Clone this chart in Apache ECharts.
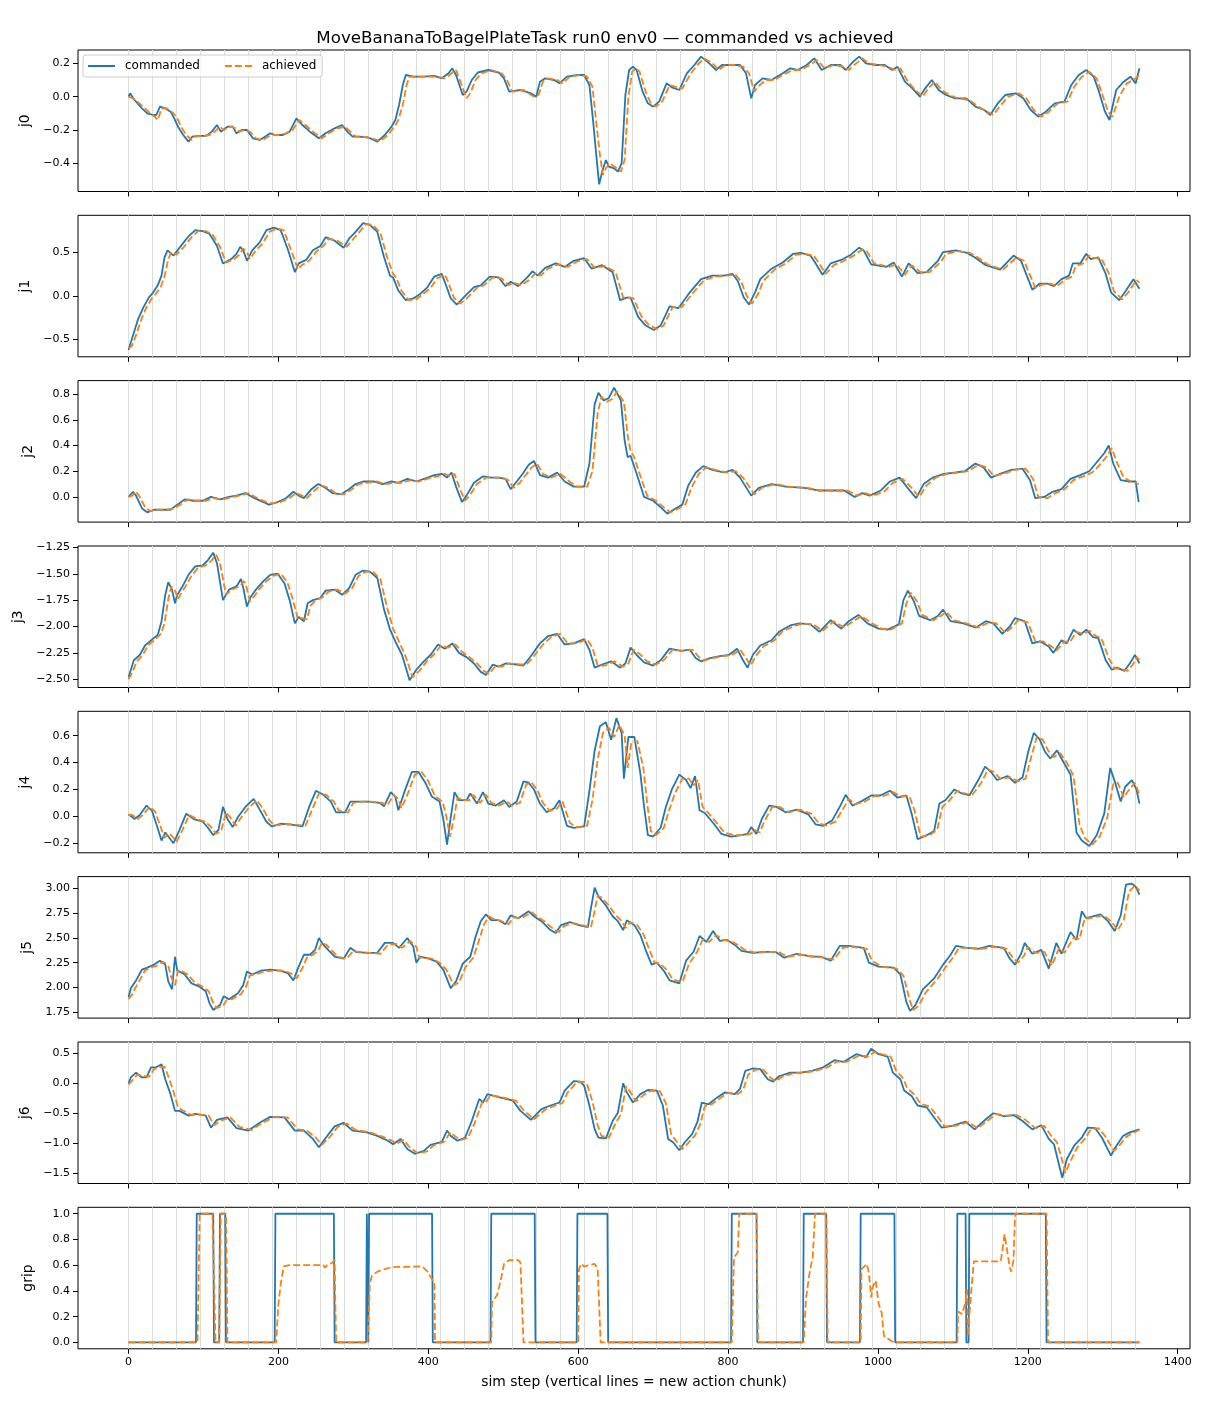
<!DOCTYPE html>
<html>
<head>
<meta charset="utf-8">
<title>MoveBananaToBagelPlateTask run0 env0</title>
<script src="https://cdn.jsdelivr.net/npm/echarts@6/dist/echarts.min.js"></script>
<style>
  html, body { margin: 0; padding: 0; background: #fff; }
  #chart { width: 1210px; height: 1408px; }
</style>
</head>
<body>
<div id="chart"></div>
<script>
// values: [sim step, value]
var chunkStarts = [0,32,64,96,128,160,192,224,256,288,320,352,384,416,448,480,512,544,576,608,640,672,704,736,768,800,832,864,896,928,960,992,1024,1056,1088,1120,1152,1184,1216,1248,1280,1312,1344];
var xTicks = [0,200,400,600,800,1000,1200,1400];

var j0Cmd = [[0,0.0],[2,0.02],[8,-0.02],[18,-0.07],[25,-0.10],[33,-0.11],[37,-0.11],[42,-0.06],[49,-0.07],[56,-0.09],[61,-0.13],[66,-0.18],[73,-0.23],[80,-0.27],[85,-0.24],[94,-0.235],[104,-0.235],[111,-0.21],[118,-0.17],[123,-0.21],[132,-0.18],[139,-0.18],[144,-0.22],[151,-0.20],[158,-0.20],[166,-0.25],[175,-0.26],[182,-0.24],[189,-0.22],[196,-0.23],[206,-0.23],[215,-0.21],[224,-0.13],[232,-0.17],[242,-0.21],[254,-0.25],[263,-0.22],[275,-0.19],[285,-0.17],[292,-0.21],[299,-0.24],[308,-0.24],[320,-0.245],[332,-0.27],[342,-0.23],[351,-0.18],[356,-0.14],[361,-0.05],[366,0.07],[370,0.13],[380,0.12],[394,0.12],[408,0.125],[418,0.11],[427,0.14],[432,0.17],[437,0.13],[446,0.01],[451,0.03],[458,0.10],[466,0.145],[480,0.16],[494,0.145],[501,0.11],[508,0.03],[523,0.04],[537,0.02],[544,0.0],[549,0.09],[556,0.11],[568,0.10],[575,0.08],[585,0.12],[599,0.13],[608,0.13],[615,0.07],[620,-0.15],[625,-0.39],[628,-0.526],[632,-0.45],[637,-0.38],[641,-0.42],[648,-0.43],[653,-0.45],[658,-0.40],[663,0.01],[668,0.16],[673,0.18],[678,0.16],[686,0.03],[693,-0.04],[700,-0.06],[708,-0.03],[718,0.08],[725,0.056],[735,0.04],[745,0.14],[755,0.19],[764,0.24],[775,0.20],[784,0.16],[792,0.19],[804,0.19],[816,0.19],[824,0.14],[831,-0.01],[836,0.07],[846,0.11],[858,0.10],[873,0.14],[883,0.17],[893,0.16],[905,0.19],[915,0.23],[925,0.16],[937,0.19],[950,0.19],[957,0.16],[967,0.21],[975,0.24],[984,0.20],[997,0.19],[1009,0.19],[1019,0.16],[1026,0.18],[1036,0.09],[1046,0.05],[1056,0.0],[1063,0.05],[1072,0.10],[1081,0.04],[1091,0.01],[1103,-0.01],[1118,-0.01],[1130,-0.06],[1142,-0.08],[1150,-0.11],[1160,-0.04],[1170,0.01],[1184,0.02],[1194,-0.01],[1204,-0.08],[1214,-0.12],[1224,-0.09],[1236,-0.04],[1249,-0.03],[1258,0.07],[1268,0.13],[1278,0.16],[1288,0.12],[1295,0.03],[1303,-0.09],[1309,-0.14],[1318,0.04],[1328,0.09],[1337,0.12],[1344,0.08],[1349,0.17]];
var j0Ach = [[0,0.0],[6,-0.01],[12,-0.03],[22,-0.07],[29,-0.10],[35,-0.12],[39,-0.14],[44,-0.07],[51,-0.07],[60,-0.10],[65,-0.13],[70,-0.18],[77,-0.23],[84,-0.26],[89,-0.24],[98,-0.235],[108,-0.23],[115,-0.21],[122,-0.18],[127,-0.20],[136,-0.18],[143,-0.19],[148,-0.21],[155,-0.20],[162,-0.21],[170,-0.25],[179,-0.26],[186,-0.24],[193,-0.23],[200,-0.23],[210,-0.22],[219,-0.20],[228,-0.14],[236,-0.17],[246,-0.21],[258,-0.25],[267,-0.22],[279,-0.19],[289,-0.18],[296,-0.21],[303,-0.24],[312,-0.24],[324,-0.25],[336,-0.265],[346,-0.23],[355,-0.18],[360,-0.14],[366,-0.05],[371,0.07],[375,0.12],[384,0.12],[398,0.12],[412,0.12],[422,0.11],[431,0.14],[437,0.16],[442,0.10],[451,-0.01],[456,0.02],[463,0.10],[471,0.14],[484,0.16],[498,0.14],[505,0.10],[512,0.03],[527,0.04],[541,0.0],[547,0.01],[553,0.09],[560,0.11],[572,0.10],[579,0.08],[589,0.12],[603,0.13],[612,0.12],[619,0.06],[624,-0.15],[629,-0.35],[633,-0.47],[637,-0.43],[642,-0.40],[652,-0.43],[657,-0.45],[662,-0.38],[667,0.0],[672,0.15],[677,0.17],[682,0.15],[690,0.03],[697,-0.04],[704,-0.06],[712,-0.03],[722,0.07],[729,0.06],[739,0.05],[749,0.13],[759,0.19],[768,0.23],[779,0.20],[788,0.16],[796,0.19],[808,0.19],[820,0.18],[828,0.14],[835,0.03],[840,0.06],[850,0.10],[862,0.10],[877,0.14],[887,0.16],[897,0.16],[909,0.19],[919,0.22],[929,0.17],[941,0.19],[954,0.18],[961,0.16],[971,0.20],[979,0.23],[988,0.20],[1001,0.19],[1013,0.18],[1023,0.16],[1030,0.17],[1040,0.09],[1050,0.04],[1060,0.0],[1067,0.05],[1076,0.09],[1085,0.04],[1095,0.01],[1107,-0.01],[1122,-0.02],[1134,-0.06],[1146,-0.09],[1154,-0.11],[1164,-0.05],[1174,0.0],[1188,0.02],[1198,-0.01],[1208,-0.08],[1218,-0.12],[1228,-0.09],[1240,-0.04],[1253,-0.03],[1262,0.06],[1272,0.12],[1282,0.15],[1292,0.11],[1299,0.02],[1307,-0.09],[1313,-0.12],[1322,0.0],[1332,0.08],[1341,0.10],[1349,0.13]];

var j1Cmd = [[0,-0.62],[6,-0.45],[13,-0.26],[20,-0.13],[27,-0.02],[33,0.04],[39,0.12],[44,0.23],[48,0.44],[52,0.52],[60,0.46],[70,0.57],[80,0.68],[89,0.75],[99,0.74],[108,0.71],[118,0.57],[126,0.37],[137,0.42],[144,0.48],[149,0.56],[153,0.52],[158,0.40],[165,0.52],[175,0.61],[184,0.75],[194,0.78],[203,0.75],[213,0.52],[222,0.27],[227,0.37],[237,0.41],[246,0.52],[256,0.57],[263,0.67],[275,0.63],[287,0.55],[294,0.65],[303,0.73],[313,0.83],[322,0.81],[332,0.73],[341,0.44],[349,0.23],[353,0.21],[360,0.06],[370,-0.05],[380,-0.03],[389,0.02],[399,0.10],[408,0.22],[418,0.25],[422,0.16],[430,-0.03],[438,-0.10],[446,-0.03],[461,0.10],[470,0.12],[482,0.22],[494,0.21],[503,0.11],[510,0.16],[520,0.11],[532,0.21],[539,0.28],[546,0.23],[556,0.32],[570,0.37],[582,0.33],[594,0.40],[608,0.43],[618,0.31],[632,0.35],[646,0.27],[656,-0.05],[665,-0.02],[670,-0.02],[680,-0.24],[690,-0.34],[701,-0.39],[710,-0.34],[722,-0.12],[734,-0.14],[749,0.04],[764,0.19],[779,0.23],[794,0.23],[806,0.25],[813,0.17],[821,-0.02],[828,-0.10],[836,0.04],[843,0.19],[858,0.31],[873,0.38],[887,0.48],[897,0.49],[910,0.46],[917,0.37],[926,0.24],[937,0.37],[951,0.41],[964,0.47],[975,0.55],[981,0.52],[991,0.36],[1011,0.33],[1021,0.38],[1032,0.22],[1041,0.37],[1053,0.26],[1065,0.27],[1080,0.40],[1087,0.50],[1104,0.52],[1119,0.49],[1129,0.44],[1144,0.35],[1163,0.30],[1181,0.46],[1191,0.40],[1206,0.07],[1216,0.14],[1226,0.14],[1235,0.11],[1245,0.19],[1255,0.23],[1260,0.37],[1270,0.37],[1278,0.48],[1284,0.42],[1294,0.44],[1304,0.25],[1311,0.04],[1322,-0.05],[1331,0.06],[1341,0.19],[1349,0.08]];
var j1Ach = [[0,-0.60],[4,-0.58],[10,-0.45],[17,-0.27],[24,-0.13],[31,-0.03],[37,0.03],[43,0.10],[48,0.22],[53,0.42],[57,0.50],[64,0.47],[74,0.56],[84,0.67],[93,0.74],[103,0.74],[112,0.70],[122,0.56],[130,0.38],[141,0.42],[148,0.47],[153,0.54],[158,0.50],[162,0.42],[169,0.51],[179,0.60],[188,0.73],[198,0.77],[207,0.75],[217,0.52],[226,0.30],[231,0.35],[241,0.40],[250,0.50],[260,0.57],[267,0.65],[279,0.63],[291,0.56],[298,0.63],[307,0.72],[317,0.82],[326,0.81],[336,0.72],[345,0.44],[353,0.25],[357,0.21],[364,0.06],[374,-0.05],[384,-0.04],[393,0.02],[403,0.09],[412,0.20],[422,0.24],[426,0.17],[434,-0.02],[442,-0.09],[450,-0.04],[465,0.09],[474,0.12],[486,0.21],[498,0.20],[507,0.12],[514,0.15],[524,0.12],[536,0.19],[543,0.26],[550,0.23],[560,0.31],[574,0.36],[586,0.33],[598,0.39],[612,0.42],[622,0.32],[636,0.34],[650,0.27],[660,-0.02],[669,-0.02],[674,-0.03],[684,-0.23],[694,-0.33],[705,-0.38],[714,-0.34],[726,-0.13],[738,-0.13],[753,0.03],[768,0.18],[783,0.22],[798,0.23],[810,0.24],[817,0.17],[825,0.0],[832,-0.09],[840,0.02],[847,0.17],[862,0.30],[877,0.37],[891,0.47],[901,0.48],[914,0.46],[921,0.38],[930,0.25],[941,0.35],[955,0.40],[968,0.46],[979,0.53],[985,0.51],[995,0.37],[1015,0.33],[1025,0.36],[1036,0.24],[1045,0.35],[1057,0.27],[1069,0.27],[1084,0.39],[1091,0.48],[1108,0.51],[1123,0.49],[1133,0.44],[1148,0.35],[1167,0.30],[1185,0.44],[1195,0.40],[1210,0.09],[1220,0.13],[1230,0.14],[1239,0.11],[1249,0.18],[1259,0.22],[1264,0.34],[1274,0.37],[1282,0.46],[1288,0.43],[1298,0.43],[1308,0.26],[1315,0.05],[1326,-0.04],[1335,0.05],[1345,0.18],[1349,0.15]];

var j2Cmd = [[0,0.0],[6,0.04],[10,0.01],[18,-0.09],[25,-0.12],[34,-0.10],[46,-0.10],[56,-0.10],[65,-0.06],[75,-0.02],[87,-0.03],[99,-0.03],[110,0.0],[122,-0.02],[134,0.0],[144,0.01],[156,0.03],[168,-0.01],[180,-0.04],[187,-0.06],[199,-0.04],[210,-0.01],[220,0.04],[227,0.01],[234,-0.01],[244,0.06],[253,0.10],[263,0.07],[272,0.03],[284,0.02],[294,0.06],[303,0.10],[313,0.12],[327,0.12],[339,0.10],[351,0.12],[360,0.11],[372,0.14],[384,0.12],[399,0.15],[408,0.17],[418,0.18],[425,0.15],[431,0.19],[437,0.08],[445,-0.04],[451,0.01],[461,0.11],[473,0.16],[484,0.15],[494,0.15],[503,0.14],[510,0.06],[518,0.12],[526,0.18],[534,0.25],[541,0.28],[549,0.17],[560,0.15],[572,0.19],[582,0.12],[594,0.08],[608,0.08],[615,0.26],[622,0.72],[627,0.81],[634,0.75],[641,0.77],[648,0.85],[657,0.75],[662,0.44],[666,0.31],[670,0.32],[678,0.18],[688,0.0],[700,-0.03],[710,-0.08],[719,-0.13],[730,-0.09],[739,-0.06],[747,0.09],[757,0.19],[767,0.24],[779,0.21],[794,0.19],[806,0.21],[816,0.15],[831,0.01],[841,0.07],[858,0.10],[877,0.08],[902,0.07],[920,0.05],[940,0.05],[955,0.05],[969,0.0],[979,0.03],[989,0.01],[1004,0.05],[1016,0.12],[1029,0.15],[1041,0.06],[1051,-0.01],[1061,0.10],[1073,0.15],[1088,0.18],[1104,0.19],[1116,0.20],[1130,0.26],[1141,0.23],[1151,0.15],[1163,0.18],[1178,0.21],[1193,0.22],[1203,0.13],[1210,-0.01],[1222,0.0],[1233,0.04],[1245,0.06],[1257,0.14],[1270,0.17],[1282,0.20],[1292,0.27],[1302,0.34],[1308,0.40],[1314,0.26],[1324,0.13],[1334,0.12],[1344,0.12],[1348,-0.04]];
var j2Ach = [[0,0.0],[5,0.01],[10,0.04],[15,0.0],[22,-0.08],[29,-0.11],[38,-0.10],[50,-0.10],[60,-0.09],[69,-0.06],[79,-0.02],[91,-0.03],[103,-0.03],[114,-0.01],[126,-0.02],[138,0.0],[148,0.01],[160,0.03],[172,-0.01],[184,-0.04],[191,-0.05],[203,-0.04],[214,-0.01],[224,0.03],[231,0.01],[238,-0.01],[248,0.05],[257,0.09],[267,0.07],[276,0.03],[288,0.02],[298,0.06],[307,0.10],[317,0.11],[331,0.12],[343,0.10],[355,0.11],[364,0.11],[376,0.13],[388,0.12],[403,0.15],[412,0.16],[422,0.18],[429,0.16],[435,0.18],[441,0.08],[449,-0.03],[455,0.01],[465,0.10],[477,0.15],[488,0.15],[498,0.15],[507,0.13],[514,0.07],[522,0.11],[530,0.17],[538,0.23],[545,0.26],[553,0.18],[564,0.15],[576,0.18],[586,0.13],[598,0.08],[612,0.08],[619,0.20],[626,0.65],[631,0.78],[638,0.74],[645,0.76],[652,0.82],[661,0.74],[666,0.48],[670,0.35],[674,0.32],[682,0.18],[692,0.01],[704,-0.03],[714,-0.08],[723,-0.12],[734,-0.09],[743,-0.06],[751,0.07],[761,0.18],[771,0.23],[783,0.21],[798,0.19],[810,0.20],[820,0.15],[835,0.02],[845,0.07],[862,0.10],[881,0.08],[906,0.07],[924,0.05],[944,0.05],[959,0.05],[973,0.01],[983,0.03],[993,0.01],[1008,0.04],[1020,0.11],[1033,0.14],[1045,0.07],[1055,0.0],[1065,0.09],[1077,0.15],[1092,0.18],[1108,0.19],[1120,0.20],[1134,0.25],[1145,0.23],[1155,0.16],[1167,0.18],[1182,0.21],[1197,0.22],[1207,0.14],[1214,0.0],[1226,-0.01],[1237,0.03],[1249,0.06],[1261,0.13],[1274,0.16],[1286,0.19],[1296,0.25],[1306,0.32],[1312,0.38],[1318,0.28],[1328,0.15],[1338,0.12],[1348,0.10]];

var j3Cmd = [[0,-2.48],[7,-2.32],[15,-2.27],[22,-2.18],[32,-2.12],[39,-2.08],[44,-1.95],[49,-1.70],[53,-1.58],[58,-1.65],[62,-1.78],[65,-1.70],[72,-1.62],[80,-1.51],[89,-1.43],[99,-1.42],[106,-1.37],[113,-1.30],[118,-1.40],[126,-1.75],[134,-1.65],[144,-1.62],[150,-1.55],[153,-1.63],[158,-1.81],[163,-1.72],[170,-1.65],[180,-1.57],[189,-1.51],[199,-1.50],[208,-1.59],[215,-1.75],[222,-1.97],[227,-1.91],[234,-1.95],[239,-1.78],[246,-1.75],[256,-1.73],[263,-1.66],[275,-1.65],[285,-1.70],[294,-1.64],[303,-1.51],[313,-1.47],[322,-1.48],[332,-1.54],[341,-1.84],[349,-2.03],[356,-2.14],[365,-2.27],[375,-2.51],[384,-2.41],[394,-2.33],[403,-2.27],[413,-2.17],[422,-2.21],[432,-2.16],[441,-2.25],[451,-2.29],[461,-2.35],[470,-2.43],[477,-2.46],[486,-2.36],[494,-2.38],[503,-2.35],[518,-2.36],[527,-2.37],[537,-2.28],[549,-2.16],[560,-2.09],[572,-2.07],[582,-2.17],[594,-2.16],[608,-2.12],[615,-2.22],[622,-2.39],[632,-2.36],[644,-2.33],[656,-2.39],[663,-2.35],[670,-2.20],[678,-2.27],[688,-2.34],[700,-2.37],[710,-2.32],[722,-2.21],[737,-2.23],[749,-2.22],[757,-2.30],[764,-2.33],[776,-2.30],[789,-2.28],[801,-2.27],[812,-2.21],[820,-2.32],[826,-2.39],[833,-2.27],[843,-2.18],[858,-2.13],[868,-2.05],[883,-1.99],[895,-1.97],[910,-1.98],[922,-2.05],[937,-1.94],[951,-2.02],[961,-1.95],[974,-1.89],[986,-1.97],[1001,-2.02],[1013,-2.03],[1028,-1.98],[1034,-1.75],[1040,-1.66],[1048,-1.76],[1055,-1.90],[1070,-1.94],[1080,-1.90],[1087,-1.84],[1097,-1.95],[1114,-1.97],[1131,-2.01],[1144,-1.95],[1154,-1.97],[1166,-2.07],[1176,-2.00],[1183,-1.92],[1196,-1.95],[1206,-2.16],[1216,-2.14],[1228,-2.19],[1234,-2.25],[1245,-2.13],[1252,-2.16],[1261,-2.03],[1270,-2.08],[1278,-2.03],[1287,-2.10],[1294,-2.11],[1304,-2.32],[1312,-2.41],[1319,-2.39],[1329,-2.42],[1336,-2.35],[1343,-2.27],[1349,-2.35]];
var j3Ach = [[0,-2.50],[4,-2.45],[11,-2.33],[19,-2.27],[26,-2.18],[36,-2.12],[43,-2.07],[48,-1.97],[53,-1.74],[57,-1.62],[62,-1.66],[66,-1.74],[69,-1.70],[76,-1.62],[84,-1.52],[93,-1.44],[103,-1.42],[110,-1.38],[117,-1.32],[122,-1.40],[130,-1.70],[138,-1.65],[148,-1.62],[154,-1.57],[157,-1.62],[162,-1.76],[167,-1.72],[174,-1.65],[184,-1.57],[193,-1.52],[203,-1.50],[212,-1.58],[219,-1.74],[226,-1.93],[231,-1.92],[238,-1.93],[243,-1.80],[250,-1.75],[260,-1.72],[267,-1.67],[279,-1.65],[289,-1.69],[298,-1.64],[307,-1.52],[317,-1.48],[326,-1.48],[336,-1.55],[345,-1.82],[353,-2.02],[360,-2.13],[369,-2.27],[379,-2.48],[388,-2.42],[398,-2.33],[407,-2.27],[417,-2.18],[426,-2.20],[436,-2.17],[445,-2.24],[455,-2.29],[465,-2.35],[474,-2.42],[481,-2.45],[490,-2.37],[498,-2.38],[507,-2.35],[522,-2.36],[531,-2.36],[541,-2.28],[553,-2.17],[564,-2.10],[576,-2.07],[586,-2.16],[598,-2.16],[612,-2.12],[619,-2.20],[626,-2.37],[636,-2.37],[648,-2.33],[660,-2.38],[667,-2.35],[674,-2.22],[682,-2.26],[692,-2.33],[704,-2.36],[714,-2.32],[726,-2.22],[741,-2.23],[753,-2.22],[761,-2.29],[768,-2.32],[780,-2.30],[793,-2.28],[805,-2.27],[816,-2.22],[824,-2.30],[830,-2.37],[837,-2.28],[847,-2.19],[862,-2.13],[872,-2.05],[887,-2.00],[899,-1.97],[914,-1.98],[926,-2.04],[941,-1.95],[955,-2.01],[965,-1.96],[978,-1.90],[990,-1.96],[1005,-2.02],[1017,-2.03],[1032,-1.97],[1038,-1.78],[1044,-1.68],[1052,-1.76],[1059,-1.89],[1074,-1.94],[1084,-1.90],[1091,-1.86],[1101,-1.94],[1118,-1.97],[1135,-2.01],[1148,-1.96],[1158,-1.97],[1170,-2.06],[1180,-2.00],[1187,-1.94],[1200,-1.96],[1210,-2.14],[1220,-2.14],[1232,-2.19],[1238,-2.23],[1249,-2.14],[1256,-2.15],[1265,-2.05],[1274,-2.07],[1282,-2.04],[1291,-2.09],[1298,-2.11],[1308,-2.30],[1316,-2.40],[1323,-2.40],[1333,-2.42],[1340,-2.36],[1346,-2.29],[1349,-2.32]];

var j4Cmd = [[0,0.015],[8,-0.02],[15,0.01],[24,0.08],[31,0.045],[37,-0.055],[44,-0.18],[49,-0.12],[53,-0.15],[60,-0.20],[68,-0.10],[77,0.02],[87,-0.02],[99,-0.04],[106,-0.085],[113,-0.14],[120,-0.10],[126,0.07],[132,-0.02],[139,-0.08],[146,-0.005],[156,0.07],[167,0.13],[175,0.05],[184,-0.04],[191,-0.075],[203,-0.055],[215,-0.06],[232,-0.075],[241,0.07],[250,0.19],[260,0.16],[270,0.11],[277,0.03],[289,0.03],[296,0.11],[308,0.11],[320,0.11],[335,0.10],[341,0.075],[350,0.18],[356,0.145],[360,0.045],[368,0.18],[378,0.33],[387,0.33],[396,0.25],[405,0.145],[415,0.11],[420,-0.02],[425,-0.21],[430,-0.005],[435,0.18],[441,0.12],[451,0.12],[456,0.17],[465,0.095],[473,0.18],[480,0.095],[490,0.08],[501,0.12],[508,0.07],[518,0.11],[527,0.26],[534,0.25],[541,0.20],[549,0.095],[558,0.03],[568,0.06],[575,0.12],[585,-0.07],[594,-0.085],[608,-0.075],[615,0.19],[622,0.49],[629,0.67],[637,0.70],[644,0.57],[651,0.73],[658,0.62],[661,0.28],[667,0.59],[675,0.59],[683,0.32],[688,0.07],[693,-0.14],[700,-0.15],[710,-0.085],[717,0.07],[725,0.20],[735,0.31],[744,0.27],[750,0.21],[756,0.30],[762,0.045],[769,0.025],[781,-0.055],[791,-0.13],[804,-0.15],[818,-0.14],[826,-0.13],[831,-0.08],[838,-0.13],[845,-0.02],[855,0.08],[865,0.07],[877,0.03],[892,0.05],[907,0.015],[917,-0.06],[927,-0.07],[939,-0.03],[949,0.07],[957,0.16],[966,0.08],[979,0.115],[991,0.155],[1003,0.155],[1016,0.19],[1026,0.14],[1038,0.155],[1045,0.02],[1053,-0.17],[1065,-0.14],[1075,-0.11],[1082,0.095],[1090,0.12],[1102,0.20],[1112,0.17],[1122,0.155],[1134,0.27],[1143,0.37],[1151,0.33],[1159,0.27],[1173,0.30],[1183,0.25],[1193,0.29],[1201,0.49],[1208,0.62],[1216,0.57],[1223,0.48],[1230,0.43],[1239,0.49],[1247,0.41],[1257,0.31],[1265,-0.12],[1272,-0.18],[1282,-0.22],[1292,-0.14],[1302,0.02],[1310,0.36],[1316,0.26],[1324,0.11],[1330,0.22],[1339,0.27],[1345,0.20],[1349,0.095]];
var j4Ach = [[0,0.01],[5,0.01],[12,-0.02],[19,0.01],[28,0.07],[35,0.04],[41,-0.05],[48,-0.16],[53,-0.13],[57,-0.14],[64,-0.19],[72,-0.10],[81,0.01],[91,-0.02],[103,-0.04],[110,-0.08],[117,-0.13],[124,-0.10],[130,0.03],[136,-0.01],[143,-0.07],[150,-0.01],[160,0.06],[171,0.12],[179,0.06],[188,-0.03],[195,-0.07],[207,-0.06],[219,-0.06],[236,-0.07],[245,0.05],[254,0.17],[264,0.16],[274,0.11],[281,0.04],[293,0.03],[300,0.10],[312,0.11],[324,0.11],[339,0.10],[345,0.08],[354,0.16],[360,0.13],[364,0.06],[372,0.16],[382,0.31],[391,0.33],[400,0.26],[409,0.15],[419,0.11],[424,0.0],[429,-0.15],[434,-0.02],[439,0.14],[445,0.12],[455,0.12],[460,0.16],[469,0.10],[477,0.16],[484,0.10],[494,0.08],[505,0.11],[512,0.08],[522,0.10],[531,0.24],[538,0.25],[545,0.20],[553,0.10],[562,0.04],[572,0.06],[579,0.11],[589,-0.05],[598,-0.08],[612,-0.07],[619,0.12],[626,0.42],[633,0.62],[641,0.66],[648,0.59],[655,0.68],[662,0.60],[666,0.36],[671,0.55],[679,0.56],[687,0.36],[692,0.10],[697,-0.11],[704,-0.14],[714,-0.09],[721,0.04],[729,0.17],[739,0.28],[748,0.28],[754,0.23],[760,0.27],[766,0.07],[773,0.03],[785,-0.05],[795,-0.12],[808,-0.14],[822,-0.14],[830,-0.13],[835,-0.10],[842,-0.12],[849,-0.03],[859,0.07],[869,0.07],[881,0.03],[896,0.05],[911,0.02],[921,-0.05],[931,-0.07],[943,-0.04],[953,0.05],[961,0.13],[970,0.09],[983,0.11],[995,0.15],[1007,0.15],[1020,0.18],[1030,0.15],[1042,0.15],[1049,0.04],[1057,-0.15],[1069,-0.14],[1079,-0.10],[1086,0.07],[1094,0.11],[1106,0.19],[1116,0.17],[1126,0.16],[1138,0.25],[1147,0.35],[1155,0.33],[1163,0.28],[1177,0.29],[1187,0.26],[1197,0.28],[1205,0.45],[1212,0.59],[1220,0.57],[1227,0.49],[1234,0.44],[1243,0.47],[1251,0.41],[1261,0.30],[1269,-0.06],[1276,-0.16],[1286,-0.21],[1296,-0.15],[1306,-0.01],[1314,0.24],[1320,0.25],[1328,0.14],[1334,0.19],[1343,0.25],[1349,0.16]];

var j5Cmd = [[0,1.90],[3,1.99],[10,2.07],[18,2.18],[25,2.20],[34,2.23],[42,2.27],[49,2.23],[53,2.06],[58,1.98],[62,2.31],[65,2.17],[75,2.13],[84,2.04],[94,2.01],[103,1.96],[108,1.84],[113,1.77],[122,1.82],[127,1.91],[134,1.88],[146,1.94],[153,2.02],[158,2.16],[165,2.13],[177,2.17],[189,2.18],[203,2.17],[213,2.14],[220,2.07],[227,2.21],[234,2.33],[242,2.33],[249,2.38],[254,2.50],[260,2.43],[275,2.31],[287,2.29],[296,2.40],[303,2.36],[318,2.35],[332,2.35],[342,2.45],[353,2.45],[361,2.40],[372,2.50],[380,2.41],[384,2.25],[389,2.31],[401,2.29],[411,2.26],[420,2.18],[430,1.99],[437,2.06],[446,2.24],[456,2.31],[463,2.51],[470,2.67],[477,2.74],[484,2.68],[494,2.68],[503,2.64],[510,2.73],[520,2.70],[534,2.77],[541,2.72],[551,2.67],[563,2.58],[570,2.55],[577,2.63],[589,2.66],[601,2.63],[613,2.61],[617,2.80],[622,3.01],[627,2.92],[637,2.83],[646,2.72],[653,2.67],[660,2.58],[665,2.68],[675,2.63],[683,2.53],[690,2.38],[698,2.23],[705,2.25],[715,2.16],[722,2.07],[735,2.04],[744,2.27],[754,2.36],[762,2.52],[771,2.46],[780,2.57],[789,2.47],[799,2.48],[809,2.43],[818,2.37],[833,2.35],[848,2.36],[863,2.36],[875,2.30],[892,2.34],[912,2.31],[924,2.31],[937,2.27],[949,2.42],[961,2.42],[981,2.40],[988,2.25],[1001,2.21],[1021,2.20],[1030,2.13],[1038,1.85],[1043,1.76],[1050,1.82],[1060,1.98],[1075,2.09],[1087,2.23],[1097,2.33],[1104,2.42],[1119,2.40],[1134,2.39],[1149,2.42],[1168,2.40],[1176,2.29],[1183,2.23],[1191,2.34],[1196,2.45],[1206,2.34],[1218,2.38],[1228,2.19],[1238,2.45],[1245,2.34],[1257,2.56],[1265,2.48],[1272,2.77],[1278,2.70],[1297,2.74],[1307,2.67],[1316,2.57],[1324,2.73],[1331,3.04],[1339,3.05],[1344,3.02],[1349,2.94]];
var j5Ach = [[0,1.88],[5,1.93],[8,1.98],[14,2.06],[22,2.17],[29,2.20],[38,2.22],[46,2.26],[53,2.22],[57,2.10],[62,2.02],[66,2.17],[70,2.17],[79,2.13],[88,2.05],[98,2.01],[107,1.96],[112,1.86],[117,1.79],[126,1.81],[131,1.87],[138,1.88],[150,1.93],[157,2.01],[162,2.12],[169,2.13],[181,2.16],[193,2.17],[207,2.17],[217,2.14],[224,2.09],[231,2.18],[238,2.30],[246,2.33],[253,2.37],[258,2.45],[264,2.43],[279,2.31],[291,2.29],[300,2.37],[307,2.36],[322,2.35],[336,2.34],[346,2.43],[357,2.44],[365,2.40],[376,2.47],[384,2.41],[388,2.30],[393,2.30],[405,2.29],[415,2.25],[424,2.18],[434,2.02],[441,2.05],[450,2.21],[460,2.30],[467,2.46],[474,2.63],[481,2.72],[488,2.69],[498,2.67],[507,2.64],[514,2.71],[524,2.70],[538,2.76],[545,2.72],[555,2.67],[567,2.59],[574,2.56],[581,2.62],[593,2.65],[605,2.63],[617,2.61],[621,2.74],[626,2.93],[631,2.91],[641,2.83],[650,2.73],[657,2.68],[664,2.60],[669,2.66],[679,2.63],[687,2.54],[694,2.40],[702,2.25],[709,2.24],[719,2.17],[726,2.08],[739,2.05],[748,2.24],[758,2.35],[766,2.48],[775,2.46],[784,2.53],[793,2.48],[803,2.47],[813,2.43],[822,2.38],[837,2.35],[852,2.36],[867,2.36],[879,2.31],[896,2.33],[916,2.31],[928,2.30],[941,2.28],[953,2.40],[965,2.41],[985,2.39],[992,2.27],[1005,2.21],[1025,2.19],[1034,2.12],[1042,1.88],[1047,1.77],[1054,1.81],[1064,1.95],[1079,2.08],[1091,2.21],[1101,2.31],[1108,2.40],[1123,2.40],[1138,2.39],[1153,2.41],[1172,2.39],[1180,2.30],[1187,2.25],[1195,2.32],[1200,2.41],[1210,2.35],[1222,2.36],[1232,2.22],[1242,2.40],[1249,2.35],[1261,2.50],[1269,2.49],[1276,2.70],[1282,2.70],[1301,2.73],[1311,2.67],[1320,2.58],[1328,2.68],[1335,2.97],[1343,3.03],[1349,2.98]];

var j6Cmd = [[0,0.0],[3,0.10],[10,0.18],[18,0.10],[24,0.10],[30,0.27],[37,0.27],[44,0.32],[49,0.07],[56,-0.18],[62,-0.46],[68,-0.46],[80,-0.54],[89,-0.51],[103,-0.54],[110,-0.74],[118,-0.61],[132,-0.57],[144,-0.75],[160,-0.79],[175,-0.66],[189,-0.56],[208,-0.57],[222,-0.79],[234,-0.79],[246,-0.93],[254,-1.07],[265,-0.88],[275,-0.72],[287,-0.66],[299,-0.79],[318,-0.82],[332,-0.88],[346,-0.96],[353,-1.02],[363,-0.93],[372,-1.10],[382,-1.18],[394,-1.13],[403,-1.03],[418,-0.98],[425,-0.79],[430,-0.88],[439,-0.96],[449,-0.91],[458,-0.63],[468,-0.26],[473,-0.32],[479,-0.18],[494,-0.23],[513,-0.29],[523,-0.46],[537,-0.61],[551,-0.43],[563,-0.37],[575,-0.32],[582,-0.12],[594,0.04],[603,0.03],[608,-0.04],[615,-0.37],[622,-0.77],[627,-0.91],[637,-0.92],[646,-0.63],[653,-0.49],[660,0.0],[665,-0.15],[673,-0.32],[683,-0.18],[693,-0.11],[705,-0.12],[713,-0.37],[720,-0.93],[727,-0.99],[735,-1.12],[742,-0.99],[752,-0.85],[759,-0.65],[765,-0.32],[774,-0.35],[786,-0.23],[796,-0.15],[809,-0.18],[816,-0.09],[823,0.21],[833,0.25],[843,0.24],[853,0.07],[860,0.03],[868,0.12],[883,0.18],[897,0.18],[912,0.21],[927,0.27],[942,0.39],[954,0.36],[971,0.49],[984,0.44],[991,0.58],[1001,0.49],[1013,0.45],[1020,0.18],[1030,0.07],[1035,-0.12],[1045,-0.21],[1053,-0.37],[1065,-0.40],[1075,-0.57],[1085,-0.74],[1099,-0.71],[1117,-0.64],[1129,-0.77],[1144,-0.60],[1154,-0.50],[1168,-0.55],[1181,-0.53],[1193,-0.63],[1206,-0.77],[1218,-0.70],[1228,-0.93],[1235,-1.02],[1241,-1.33],[1246,-1.58],[1252,-1.27],[1262,-1.04],[1272,-0.91],[1280,-0.74],[1290,-0.75],[1299,-0.91],[1311,-1.21],[1317,-1.07],[1327,-0.88],[1336,-0.82],[1349,-0.77]];
var j6Ach = [[0,-0.02],[5,0.05],[12,0.15],[19,0.12],[28,0.12],[34,0.24],[41,0.27],[48,0.28],[53,0.12],[60,-0.14],[66,-0.40],[72,-0.45],[84,-0.53],[93,-0.52],[107,-0.54],[114,-0.70],[122,-0.63],[136,-0.57],[148,-0.73],[164,-0.78],[179,-0.66],[193,-0.57],[212,-0.57],[226,-0.77],[238,-0.79],[250,-0.91],[258,-1.03],[269,-0.89],[279,-0.73],[291,-0.67],[303,-0.78],[322,-0.82],[336,-0.88],[350,-0.95],[357,-1.01],[367,-0.95],[376,-1.08],[386,-1.17],[398,-1.14],[407,-1.04],[422,-0.97],[429,-0.82],[434,-0.87],[443,-0.95],[453,-0.91],[462,-0.66],[472,-0.31],[477,-0.31],[483,-0.20],[498,-0.23],[517,-0.29],[527,-0.45],[541,-0.60],[555,-0.45],[567,-0.38],[579,-0.33],[586,-0.15],[598,0.02],[607,0.03],[612,-0.02],[619,-0.30],[626,-0.70],[631,-0.88],[641,-0.91],[650,-0.66],[657,-0.52],[664,-0.05],[669,-0.13],[677,-0.30],[687,-0.20],[697,-0.12],[709,-0.13],[717,-0.33],[724,-0.85],[731,-0.97],[739,-1.10],[746,-1.01],[756,-0.87],[763,-0.68],[769,-0.38],[778,-0.35],[790,-0.24],[800,-0.16],[813,-0.18],[820,-0.11],[827,0.15],[837,0.23],[847,0.23],[857,0.09],[864,0.04],[872,0.11],[887,0.17],[901,0.18],[916,0.21],[931,0.26],[946,0.37],[958,0.36],[975,0.47],[988,0.45],[995,0.53],[1005,0.49],[1017,0.45],[1024,0.22],[1034,0.08],[1039,-0.08],[1049,-0.19],[1057,-0.34],[1069,-0.39],[1079,-0.54],[1089,-0.72],[1103,-0.71],[1121,-0.65],[1133,-0.75],[1148,-0.61],[1158,-0.51],[1172,-0.54],[1185,-0.53],[1197,-0.61],[1210,-0.75],[1222,-0.71],[1232,-0.89],[1239,-0.99],[1245,-1.25],[1250,-1.50],[1256,-1.33],[1266,-1.07],[1276,-0.93],[1284,-0.77],[1294,-0.75],[1303,-0.88],[1315,-1.13],[1321,-1.06],[1331,-0.90],[1340,-0.83],[1349,-0.78]];

var gripCmd = [[0,0],[90,0],[91,1],[113,1],[114,0],[121,0],[122,1],[129,1],[130,0],[195,0],[196,1],[274,1],[275,0],[317,0],[318,1],[319,1],[320,0],[321,1],[405,1],[406,0],[483,0],[484,1],[542,1],[543,0],[598,0],[599,1],[639,1],[640,0],[804,0],[805,1],[838,1],[839,0],[900,0],[901,1],[931,1],[932,0],[976,0],[977,1],[1022,1],[1023,0],[1105,0],[1106,1],[1117,1],[1118,0],[1121,0],[1122,1],[1224,1],[1225,0],[1349,0]];
var gripAch = [[0,0],[92,0],[95,1],[112,1],[116,0],[121,0],[123,1],[130,1],[132,0],[197,0],[200,0.3],[203,0.45],[207,0.59],[215,0.6],[240,0.6],[260,0.6],[262,0.58],[265,0.6],[272,0.62],[275,0.64],[276,0.3],[277,0],[319,0],[321,0.3],[322,0.46],[325,0.52],[332,0.55],[342,0.57],[351,0.585],[392,0.59],[399,0.55],[405,0.49],[408,0.47],[409,0],[484,0],[485,0.31],[492,0.37],[497,0.49],[501,0.61],[508,0.64],[520,0.64],[523,0.62],[527,0],[600,0],[601,0.57],[604,0.61],[608,0.59],[622,0.61],[626,0.57],[630,0],[805,0],[806,0.26],[808,0.66],[813,0.7],[815,1],[838,1],[840,0],[901,0],[904,0.34],[909,0.55],[913,0.66],[916,1],[931,1],[933,0],[977,0],[978,0.57],[985,0.61],[988,0.54],[991,0.35],[993,0.43],[997,0.48],[1001,0.3],[1005,0.23],[1008,0.05],[1013,0.03],[1018,0.01],[1023,0],[1106,0],[1107,0.24],[1112,0.22],[1117,0.31],[1119,0.41],[1120,0.05],[1122,0.05],[1124,0.36],[1128,0.63],[1164,0.63],[1169,0.84],[1171,0.83],[1176,0.58],[1178,0.55],[1181,0.64],[1183,1],[1225,1],[1227,0],[1349,0]];

var panelNames = ['j0','j1','j2','j3','j4','j5','j6','grip'];
var cmdSeries = [j0Cmd, j1Cmd, j2Cmd, j3Cmd, j4Cmd, j5Cmd, j6Cmd, gripCmd];
var achSeries = [j0Ach, j1Ach, j2Ach, j3Ach, j4Ach, j5Ach, j6Ach, gripAch];
var yTicks = [
  [-0.4,-0.2,0,0.2],
  [-0.5,0,0.5],
  [0,0.2,0.4,0.6,0.8],
  [-2.5,-2.25,-2,-1.75,-1.5,-1.25],
  [-0.2,0,0.2,0.4,0.6],
  [1.75,2,2.25,2.5,2.75,3],
  [-1.5,-1,-0.5,0,0.5],
  [0,0.2,0.4,0.6,0.8,1]
];
var yDecimals = [1,1,1,2,1,2,1,1];

// axis ranges (matplotlib autoscale with 5% margins)
var yRanges = [[-0.569,0.28],[-0.697,0.92],[-0.196,0.905],[-2.578,-1.237],[-0.271,0.781],[1.688,3.122],[-1.677,0.694],[-0.05,1.05]];
var xRange = [-67.45, 1416.45];

var FONT = 'DejaVu Sans';
var gridTops = [50, 215.3, 380.6, 546, 711.3, 876.6, 1042, 1207.3];
var gridH = 141.5;

var myChart = echarts.init(document.getElementById('chart'));

function fmt(v, d) {
  return v.toFixed(d).replace('-', '\u2212');
}

var grids = [], xAxes = [], yAxes = [], series = [];
panelNames.forEach(function (nm, i) {
  var last = i === panelNames.length - 1;
  grids.push({
    left: 78, width: 1112, top: gridTops[i], height: gridH,
    show: true, borderColor: '#000', borderWidth: 1, backgroundColor: 'transparent'
  });
  xAxes.push({
    gridIndex: i, type: 'value', min: xRange[0], max: xRange[1],
    axisLine: { show: false, onZero: false },
    splitLine: { show: false },
    axisTick: { show: true, length: 5, lineStyle: { color: '#000', width: 1 }, customValues: xTicks },
    axisLabel: {
      show: last, customValues: xTicks, fontSize: 11, color: '#000', fontFamily: FONT, margin: 8,
      formatter: function (v) { return String(v); }
    },
    name: last ? 'sim step (vertical lines = new action chunk)' : '',
    nameLocation: 'middle', nameGap: 27,
    nameTextStyle: { fontSize: 13.9, color: '#000', fontFamily: FONT }
  });
  yAxes.push({
    gridIndex: i, type: 'value', min: yRanges[i][0], max: yRanges[i][1],
    axisLine: { show: false, onZero: false },
    splitLine: { show: false },
    axisTick: { show: true, length: 5, lineStyle: { color: '#000', width: 1 }, customValues: yTicks[i] },
    axisLabel: {
      customValues: yTicks[i], fontSize: 11, color: '#000', fontFamily: FONT, margin: 8,
      formatter: (function (d) { return function (v) { return fmt(v, d); }; })(yDecimals[i])
    },
    name: nm, nameLocation: 'middle', nameGap: 43,
    nameTextStyle: { fontSize: 13.9, color: '#000', fontFamily: FONT }
  });
  series.push({
    name: 'commanded', type: 'line', xAxisIndex: i, yAxisIndex: i,
    data: cmdSeries[i], showSymbol: false, symbol: 'none', z: 2,
    lineStyle: { color: '#1f77b4', width: 1.8 },
    itemStyle: { color: '#1f77b4' },
    markLine: {
      silent: true, symbol: 'none', z: 1, animation: false,
      label: { show: false },
      lineStyle: { color: '#dcdcdc', width: 1, type: 'solid' },
      data: chunkStarts.map(function (s) { return { xAxis: s }; })
    }
  });
  series.push({
    name: 'achieved', type: 'line', xAxisIndex: i, yAxisIndex: i,
    data: achSeries[i], showSymbol: false, symbol: 'none', z: 3,
    lineStyle: { color: '#ff7f0e', width: 1.8, type: [7, 3] },
    itemStyle: { color: '#ff7f0e' }
  });
});

var option = {
  animation: false,
  backgroundColor: '#fff',
  textStyle: { fontFamily: FONT },
  title: {
    text: 'MoveBananaToBagelPlateTask run0 env0 \u2014 commanded vs achieved',
    left: 'center', top: 25,
    textStyle: { fontSize: 16.7, fontWeight: 'normal', color: '#000', fontFamily: FONT }
  },
  legend: {
    data: ['commanded', 'achieved'],
    left: 83, top: 55,
    itemWidth: 27, itemHeight: 10, itemGap: 24,
    itemStyle: { opacity: 0 },
    backgroundColor: 'rgba(255,255,255,0.8)',
    borderColor: '#cccccc', borderWidth: 1, borderRadius: 3,
    padding: [5, 6, 5, 4],
    textStyle: { fontSize: 12, color: '#000', fontFamily: FONT, padding: [0, 0, 0, 5] }
  },
  grid: grids,
  xAxis: xAxes,
  yAxis: yAxes,
  series: series
};

myChart.setOption(option);
</script>
</body>
</html>
